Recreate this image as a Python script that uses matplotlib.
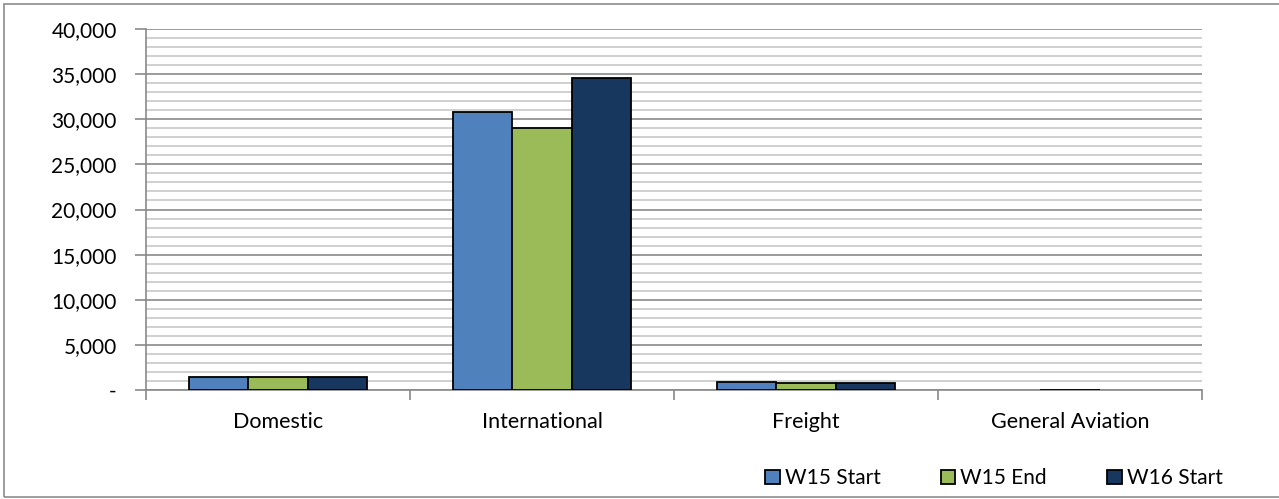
import matplotlib
matplotlib.use("Agg")
from matplotlib import pyplot as plt
from matplotlib.patches import Rectangle
from matplotlib.ticker import FuncFormatter, MultipleLocator
import numpy as np

categorias = ["Domestic", "International", "Freight", "General Aviation"]
series = ["W15 Start", "W15 End", "W16 Start"]
w15_start = [1420, 30770, 850, 0]
w15_end = [1400, 29060, 750, 40]
w16_start = [1450, 34540, 800, 0]
cores = ["#4F81BD", "#9BBB59", "#17375E"]

plt.rcParams['font.family'] = ['Lato', 'DejaVu Sans']

fig = plt.figure(figsize=(12.79, 4.99), dpi=100)
ax = fig.add_axes([146 / 1279, 1 - 390 / 499, 1056 / 1279, 361 / 499])

# moldura externa
fig.patches.append(Rectangle((4 / 1279, 2 / 499), 1.05, 1 - 6 / 499,
                             transform=fig.transFigure, fill=False,
                             edgecolor="#8c8c8c", linewidth=1.2))

x = np.arange(len(categorias))
largura = 0.2235
valores = [w15_start, w15_end, w16_start]
for i, (nome, vals) in enumerate(zip(series, valores)):
    # barras com valor zero nao mostram contorno
    espessuras = [1.3 if v > 0 else 0 for v in vals]
    ax.bar(x + (i - 1) * largura, vals, largura, label=nome, color=cores[i],
           edgecolor="black", linewidth=espessuras, zorder=3)

ax.set_xlim(-0.5, len(categorias) - 0.5)
ax.set_ylim(0, 40000)
ax.yaxis.set_major_locator(MultipleLocator(5000))
ax.yaxis.set_minor_locator(MultipleLocator(1000))
ax.yaxis.set_major_formatter(FuncFormatter(lambda v, p: "-" if v == 0 else f"{v:,.0f}"))
ax.grid(which="major", axis="y", color="#8a8a8a", linewidth=1.2, zorder=0)
ax.grid(which="minor", axis="y", color="#c8c8c8", linewidth=1.2, zorder=0)

ax.set_xticks(x)
ax.set_xticklabels(categorias)
ax.set_xticks(np.arange(len(categorias) + 1) - 0.5, minor=True)
ax.tick_params(axis="x", which="major", length=0, pad=16, labelsize=15.5)
ax.tick_params(axis="x", which="minor", length=7, color="#8a8a8a", width=1.2)
ax.tick_params(axis="y", which="major", length=8, color="#8a8a8a", width=1.2,
               labelsize=15, pad=13)
ax.tick_params(axis="y", which="minor", length=0)

for lado in ["top", "right"]:
    ax.spines[lado].set_visible(False)
for lado in ["left", "bottom"]:
    ax.spines[lado].set_color("#8a8a8a")
    ax.spines[lado].set_linewidth(1.2)

fig.legend(loc="center", bbox_to_anchor=(994 / 1279, 1 - 478.5 / 499), ncol=3,
           frameon=False, fontsize=15, handlelength=0.68, handleheight=0.68,
           handletextpad=0.25, columnspacing=2.9)

fig.savefig("out.png", dpi=100)
